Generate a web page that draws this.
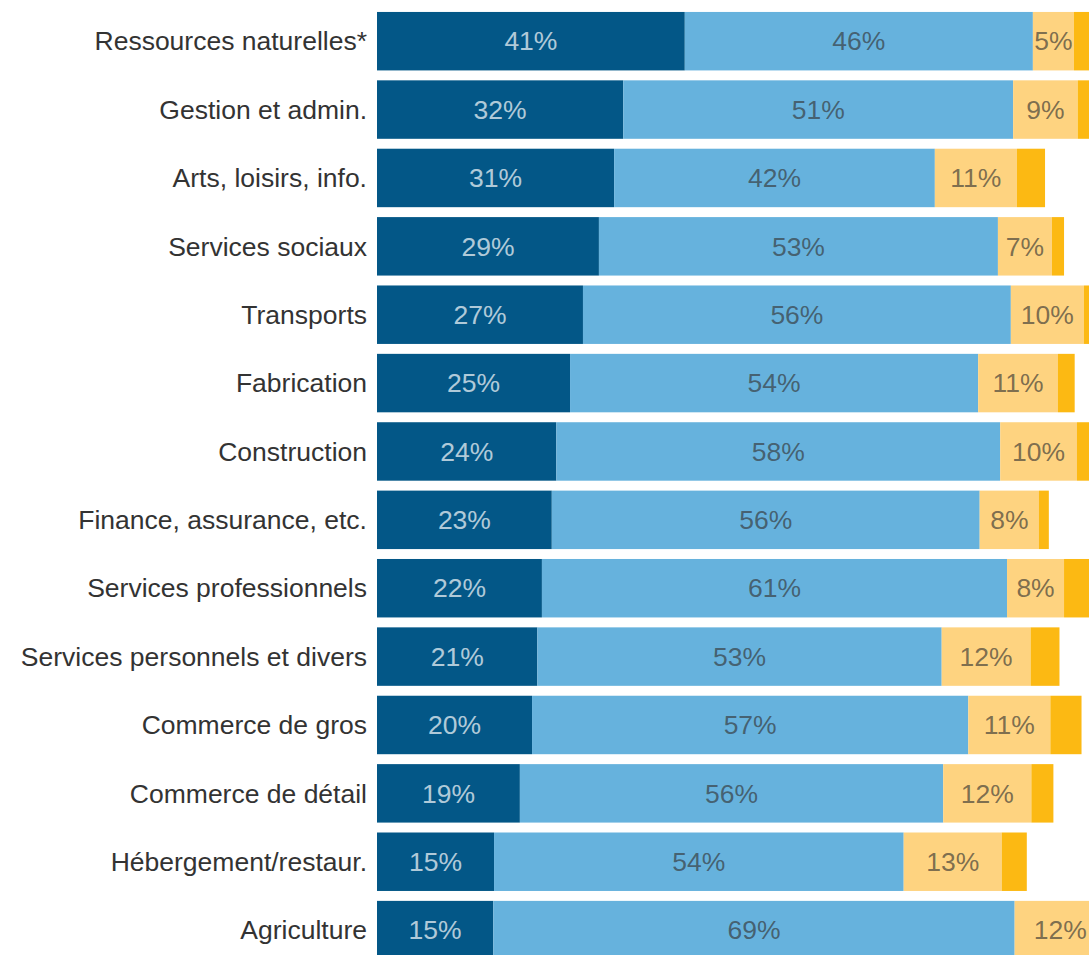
<!DOCTYPE html>
<html>
<head>
<meta charset="utf-8">
<script src="https://cdn.jsdelivr.net/npm/d3@7"></script>
<style>
  body { margin: 0; background: #fff; }
  svg { display: block; font-family: 'Liberation Sans', Arial, sans-serif; }
</style>
</head>
<body>
<div id="chart"></div>
<script>
const categories = [
  'Ressources naturelles*',
  'Gestion et admin.',
  'Arts, loisirs, info.',
  'Services sociaux',
  'Transports',
  'Fabrication',
  'Construction',
  'Finance, assurance, etc.',
  'Services professionnels',
  'Services personnels et divers',
  'Commerce de gros',
  'Commerce de détail',
  'Hébergement/restaur.',
  'Agriculture'
]

// four stacked series, in percent
const series1 = [40.5, 32.4, 31.2, 29.2, 27.1, 25.4, 23.6, 23.0, 21.7, 21.1, 20.4, 18.8, 15.4, 15.3]
const series2 = [45.8, 51.3, 42.2, 52.5, 56.3, 53.7, 58.4, 56.3, 61.2, 53.2, 57.4, 55.7, 53.9, 68.6]
const series3 = [5.4, 8.5, 10.8, 7.1, 9.6, 10.5, 10.1, 7.8, 7.5, 11.7, 10.8, 11.6, 12.9, 12.0]
const series4 = [3.0, 3.0, 3.7, 1.6, 2.0, 2.2, 2.0, 1.3, 4.0, 3.8, 4.1, 2.9, 3.3, 3.0]

const seriesLabels = [series1, series2, series3]
const colors = ['#035787', '#66b2dd', '#fed380', '#fcb913']

const width = 1089
const height = 955
const margin = { left: 377 }
const fontSize = 26.5

const rows = categories.map((c, i) => ({
  name: c,
  s0: series1[i],
  s1: series2[i],
  s2: series3[i],
  s3: series4[i]
}))

const stack = d3.stack().keys(['s0', 's1', 's2', 's3'])
const stacked = stack(rows)

const svg = d3
  .select('#chart')
  .append('svg')
  .attr('width', width)
  .attr('height', height)

const xScale = d3
  .scaleLinear()
  .domain([0, 100])
  .range([margin.left, margin.left + 760])

const yScale = d3
  .scaleBand()
  .domain(categories)
  .range([7, 964.3])
  .paddingInner(0.145)
  .paddingOuter(0.0725)

const layers = svg
  .selectAll('.layer')
  .data(stacked)
  .enter()
  .append('g')
  .attr('class', 'layer')
  .attr('fill', (d, i) => colors[i])

layers
  .selectAll('rect')
  .data(d => d)
  .enter()
  .append('rect')
  .attr('x', d => xScale(d[0]))
  .attr('y', d => yScale(d.data.name))
  .attr('width', d => xScale(d[1]) - xScale(d[0]))
  .attr('height', yScale.bandwidth())

// percent labels on the first three segments
stacked.slice(0, 3).forEach((layer, k) => {
  svg
    .append('g')
    .selectAll('text')
    .data(layer)
    .enter()
    .append('text')
    .attr('x', d => (xScale(d[0]) + xScale(d[1])) / 2)
    .attr('y', d => yScale(d.data.name) + yScale.bandwidth() / 2)
    .attr('dy', '0.35em')
    .attr('text-anchor', 'middle')
    .attr('font-size', fontSize)
    .attr('fill', k === 0 ? '#fff' : '#333')
    .attr('fill-opacity', k === 0 ? 0.7 : 0.65)
    .text((d, i) => Math.round(seriesLabels[k][i]) + '%')
})

// category labels
svg
  .append('g')
  .selectAll('text')
  .data(categories)
  .enter()
  .append('text')
  .attr('x', margin.left - 10)
  .attr('y', d => yScale(d) + yScale.bandwidth() / 2)
  .attr('dy', '0.35em')
  .attr('text-anchor', 'end')
  .attr('font-size', fontSize)
  .attr('fill', '#333')
  .text(d => d)
</script>
</body>
</html>
